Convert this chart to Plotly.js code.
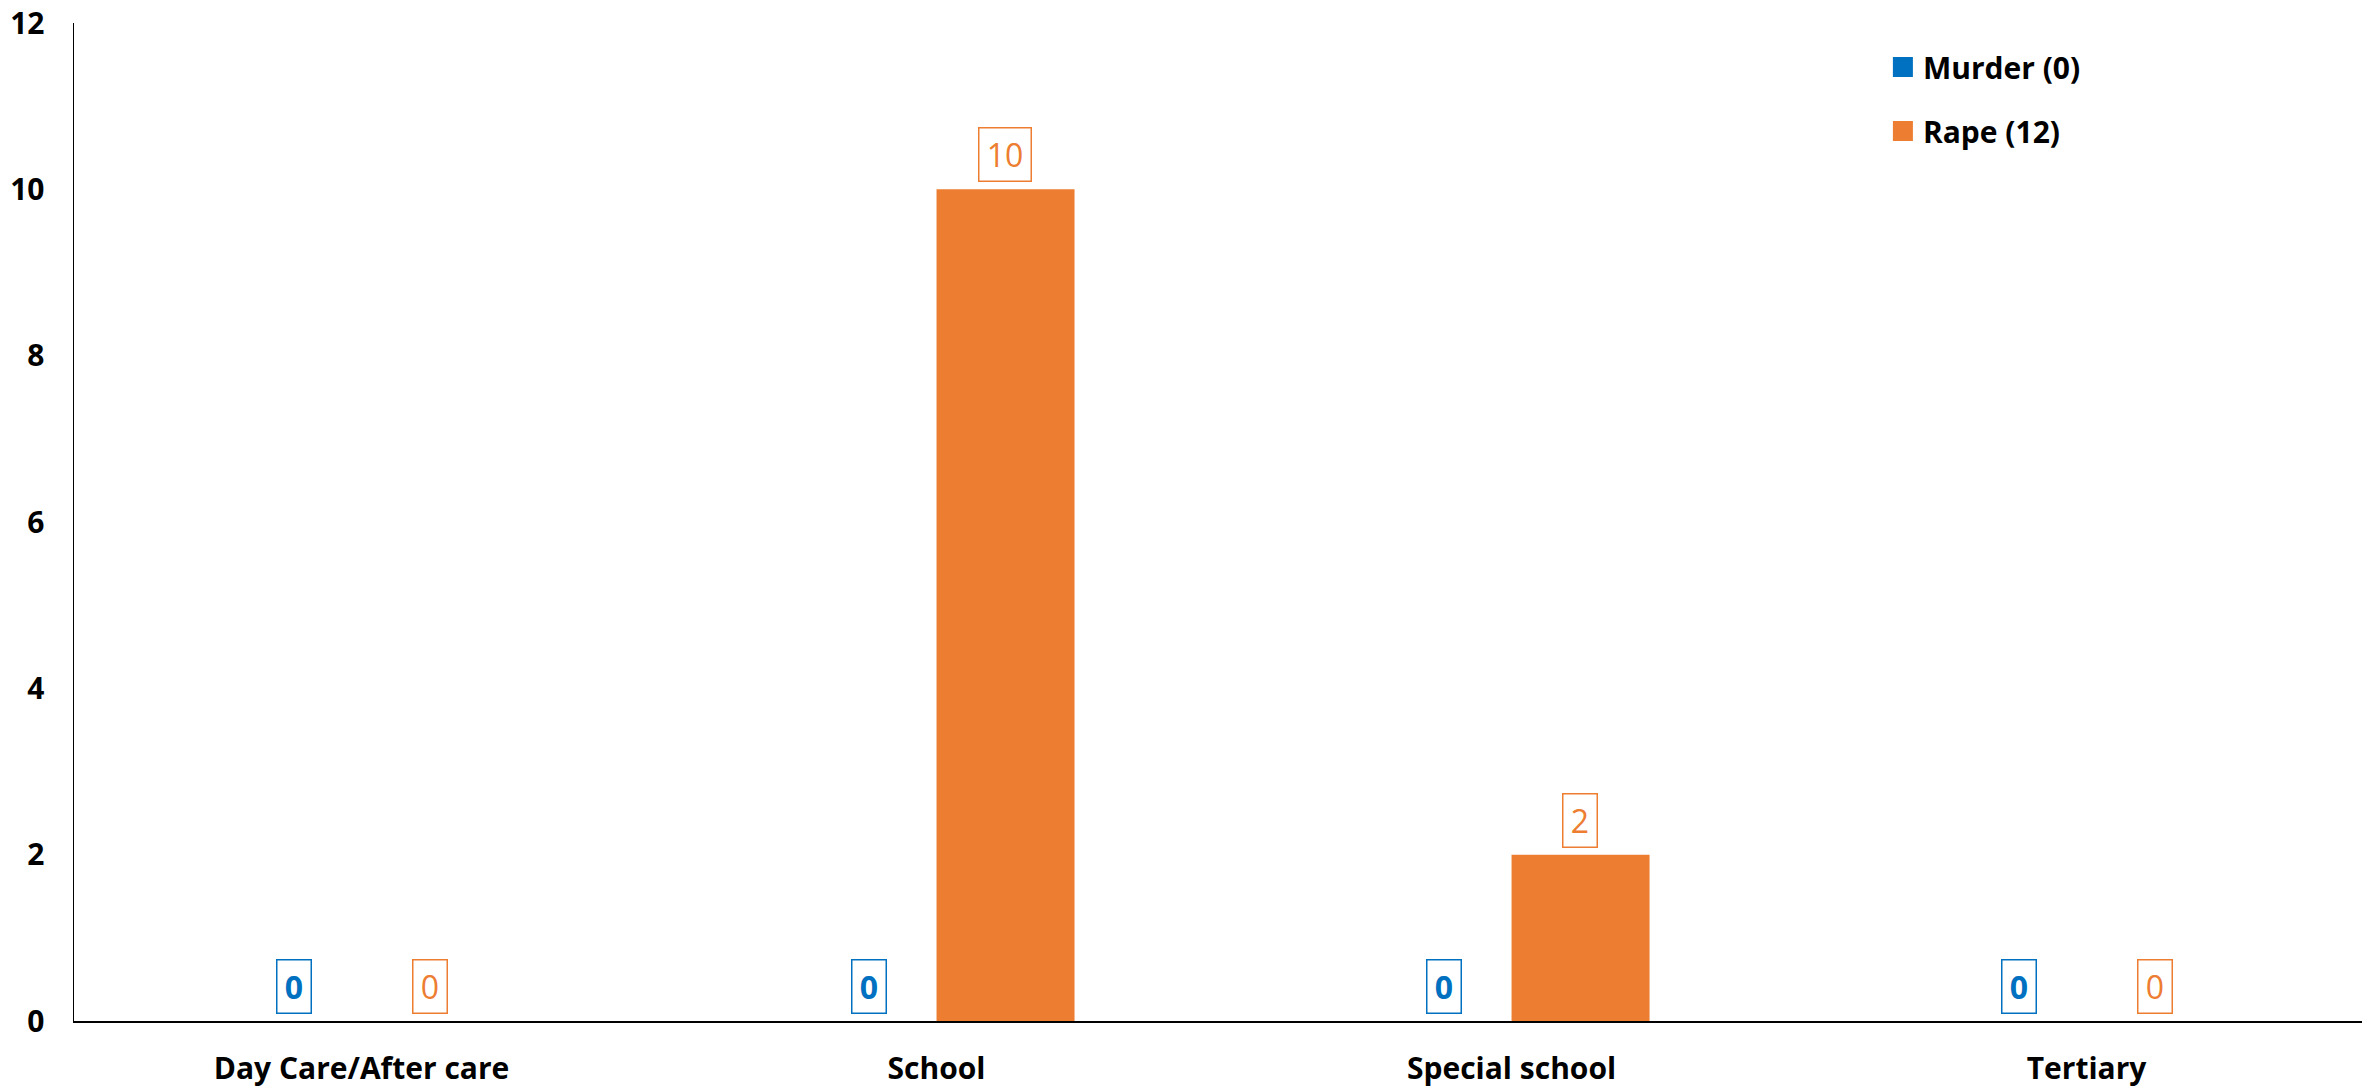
<!DOCTYPE html>
<html>
<head>
<meta charset="utf-8">
<script src="https://cdn.plot.ly/plotly-3.0.1.min.js"></script>
<style>html,body{margin:0;padding:0;background:#fff;}#chart{width:2362px;height:1088px;}</style>
</head>
<body>
<div id="chart"></div>
<script>
const categories = ["Day Care/After care", "School", "Special school", "Tertiary"];
const murderValues = [0, 0, 0, 0];
const rapeValues = [0, 10, 2, 0];
const seriesNames = ["Murder (0)", "Rape (12)"];
const yTicks = [0, 2, 4, 6, 8, 10, 12];

const BLUE = "#0070C0";
const ORANGE = "#ED7D31";
const FONT = "'Open Sans', 'Noto Sans', sans-serif";

const traces = [
  {type: "bar", x: categories, y: murderValues, name: seriesNames[0], marker: {color: BLUE}, showlegend: false},
  {type: "bar", x: categories, y: rapeValues, name: seriesNames[1], marker: {color: ORANGE}, showlegend: false},
  {type: "scatter", mode: "markers", x: [null], y: [null], name: seriesNames[0], legendgroup: "a",
   marker: {symbol: "square", size: 16, color: BLUE, line: {color: BLUE, width: 4}}},
  {type: "scatter", mode: "markers", x: [null], y: [null], name: seriesNames[1], legendgroup: "b",
   marker: {symbol: "square", size: 16, color: ORANGE, line: {color: ORANGE, width: 4}}}
];

const annotations = [];
function addLabels(values, color, bold, shift) {
  values.forEach((v, i) => {
    const txt = String(v);
    annotations.push({
      x: categories[i], y: v, xref: "x", yref: "y",
      text: bold ? "<b>" + txt + "</b>" : txt,
      showarrow: false, yanchor: "bottom", xanchor: "center",
      xshift: shift, yshift: 7,
      width: 9 + 18 * txt.length, height: 46,
      font: {family: FONT, size: 32, color: color},
      bordercolor: color, borderwidth: 1.5, borderpad: 3, bgcolor: "rgba(255,255,255,0)"
    });
  });
}
addLabels(murderValues, BLUE, true, -68);
addLabels(rapeValues, ORANGE, false, 68);

const layout = {
  width: 2362, height: 1088,
  margin: {l: 74, r: 0, t: 23, b: 67},
  paper_bgcolor: "#fff", plot_bgcolor: "#fff",
  font: {family: FONT, color: "#000"},
  barmode: "group", bargap: 0.52, bargroupgap: 0,
  xaxis: {
    type: "category", range: [-0.5, 3.479],
    showline: true, linecolor: "#000", linewidth: 2,
    showgrid: false, zeroline: false, ticks: "",
    tickfont: {family: FONT, size: 30, color: "#000", weight: "bold"},
    ticklabelstandoff: 20, fixedrange: true
  },
  yaxis: {
    range: [0, 12], tickvals: yTicks, ticktext: yTicks.map(String),
    showline: true, linecolor: "#000", linewidth: 1.5,
    showgrid: false, zeroline: false, ticks: "",
    tickfont: {family: FONT, size: 30, color: "#000", weight: "bold"},
    ticklabelstandoff: 22, fixedrange: true
  },
  legend: {
    x: 0.7906, y: 0.982, xanchor: "left", yanchor: "top",
    font: {family: FONT, size: 30, color: "#000", weight: "bold"},
    traceorder: "grouped", tracegroupgap: 22, bgcolor: "rgba(0,0,0,0)"
  },
  annotations: annotations,
  showlegend: true
};

Plotly.newPlot("chart", traces, layout, {displayModeBar: false, staticPlot: true});
</script>
</body>
</html>
